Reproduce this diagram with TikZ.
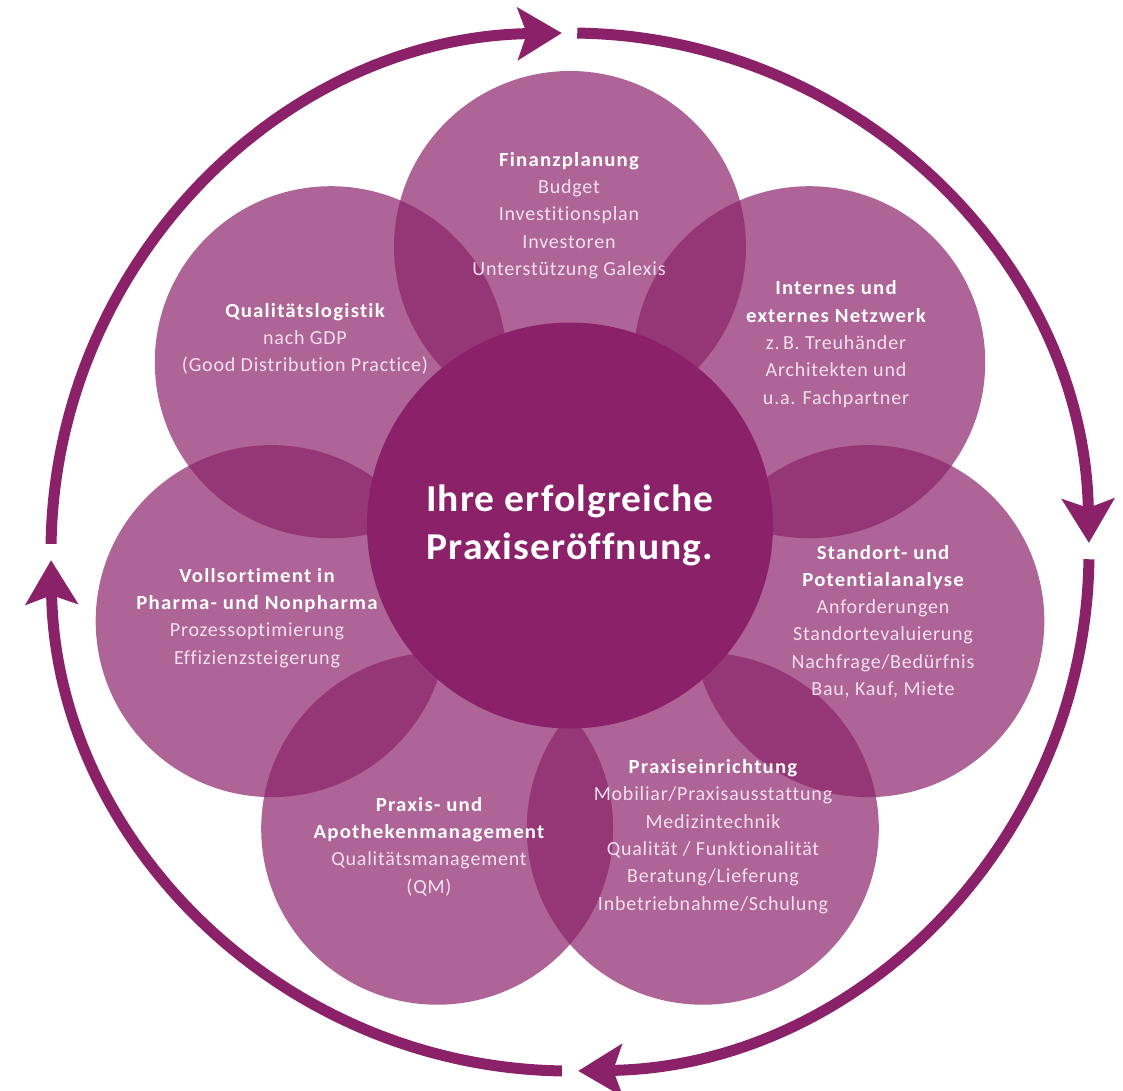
\documentclass[tikz,border=0pt]{standalone}
\usepackage{fontspec}
\setmainfont{Carlito}[Ligatures=NoCommon, LetterSpace=4, BoldFeatures={LetterSpace=6,FakeStretch=1.04}]
\newfontfamily\hubfont{Carlito}[Ligatures=NoCommon, BoldFeatures={LetterSpace=3,FakeStretch=1.04}]
\usetikzlibrary{arrows.meta}
\definecolor{plum}{RGB}{139,34,105}
\definecolor{itemc}{RGB}{243,224,237}
\newcommand{\pttl}[1]{{\bfseries\color{white}#1}}
\begin{document}
\begin{tikzpicture}[x=1pt,y=-1pt,
  petal/.style={circle, fill=plum, fill opacity=0.7, minimum size=352pt, inner sep=0pt, draw=none},
  hub/.style={circle, fill=plum, minimum size=406pt, inner sep=0pt, text=white, align=center,
    font=\hubfont\bfseries\fontsize{38}{48}\selectfont},
  txt/.style={align=center, text=itemc, inner sep=0pt, font=\fontsize{20}{27.3}\selectfont},
  ring/.style={draw=plum, line width=11pt, -{Stealth[length=44pt,width=52pt,inset=9pt]}}
]
\useasboundingbox (0,0) rectangle (1123,1090);
\coordinate (O) at (570,552);
% petals
\node[petal] (p1) at (570,247) {};
\node[petal] (p2) at (809.2,362.2) {};
\node[petal] (p3) at (868.3,621.1) {};
\node[petal] (p4) at (702.8,828.7) {};
\node[petal] (p5) at (437.2,828.7) {};
\node[petal] (p6) at (271.7,621.1) {};
\node[petal] (p7) at (330.8,362.2) {};
% hub
\node[hub] (hub) at (570,525.5) {Ihre erfolgreiche\\Praxiseröffnung.};
% ring
\draw[ring] (O) ++(-89.2:519) arc[start angle=-89.2, end angle=-1.0, radius=519];
\draw[ring] (O) ++(0.8:519) arc[start angle=0.8, end angle=89.1, radius=519];
\draw[ring] (O) ++(90.9:519) arc[start angle=90.9, end angle=179.1, radius=519];
\draw[ring] (O) ++(180.9:519) arc[start angle=180.9, end angle=269.1, radius=519];
% texts
\node[txt] (t1) at (569,215.5) {\pttl{Finanzplanung}\\Budget\\Investitionsplan\\Investoren\\Unterstützung Galexis};
\node[txt] (t2) at (836,344) {\pttl{Internes und}\\\pttl{externes Netzwerk}\\z.\,B. Treuhänder\\Architekten und\\u.a. Fachpartner};
\node[txt] (t3) at (883,621.5) {\pttl{Standort- und}\\\pttl{Potentialanalyse}\\Anforderungen\\Standortevaluierung\\Nachfrage/Bedürfnis\\Bau, Kauf, Miete};
\node[txt] (t4) at (713,836.5) {\pttl{Praxiseinrichtung}\\Mobiliar/Praxisausstattung\\Medizintechnik\\Qualität / Funktionalität\\Beratung/Lieferung\\Inbetriebnahme/Schulung};
\node[txt] (t5) at (429,846.5) {\pttl{Praxis- und}\\\pttl{Apothekenmanagement}\\Qualitätsmanagement\\(QM)};
\node[txt] (t6) at (257,618) {\pttl{Vollsortiment in}\\\pttl{Pharma- und Nonpharma}\\Prozessoptimierung\\Effizienzsteigerung};
\node[txt] (t7) at (305,339) {\pttl{Qualitätslogistik}\\nach GDP\\(Good Distribution Practice)};
\end{tikzpicture}
\end{document}
